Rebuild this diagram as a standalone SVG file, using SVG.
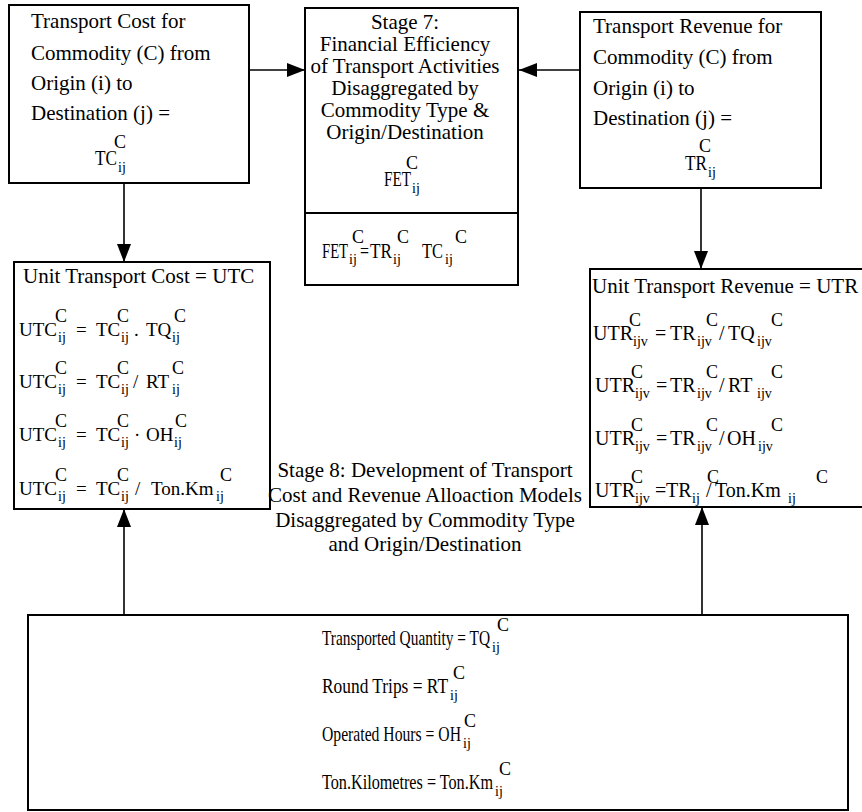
<svg xmlns="http://www.w3.org/2000/svg" width="862" height="812" viewBox="0 0 862 812">
<style>
.box{fill:#fff;stroke:#000;stroke-width:2}
text{font-family:"Liberation Serif","Times New Roman",serif;fill:#000}
.l{font-size:21px}
.m{text-anchor:middle}
.e{font-size:19px}
.e2{font-size:20px}
.b{font-size:21px}
.s{font-size:14px}
.c{font-size:18px;text-anchor:middle}
.conn{stroke:#000;stroke-width:1.6;fill:none}
</style>
<defs>
<marker id="ah" markerUnits="userSpaceOnUse" markerWidth="18" markerHeight="14" refX="18" refY="7" orient="auto">
<path d="M0,0 L18,7 L0,14 z" fill="#000"/>
</marker>
</defs>
<rect width="862" height="812" fill="#fff"/>

<g id="connectors">
<path class="conn" d="M249,70 H305" marker-end="url(#ah)"/>
<path class="conn" d="M580,70 H519" marker-end="url(#ah)"/>
<path class="conn" d="M124,183 V262" marker-end="url(#ah)"/>
<path class="conn" d="M701,188 V269" marker-end="url(#ah)"/>
<path class="conn" d="M124,615 V509" marker-end="url(#ah)"/>
<path class="conn" d="M702,615 V507" marker-end="url(#ah)"/>
</g>

<g id="transport-cost">
<rect class="box" x="9" y="5" width="240" height="178"/>
<text class="l" x="31" y="28">Transport Cost for</text>
<text class="l" x="31" y="60">Commodity (C) from</text>
<text class="l" x="31" y="90">Origin (i) to</text>
<text class="l" x="31" y="120">Destination (j) =</text>
<text class="c" x="120" y="148">C</text>
<text class="e2" x="95" y="165" textLength="22" lengthAdjust="spacingAndGlyphs">TC</text>
<text class="s" x="118" y="172">ij</text>
</g>

<g id="stage7">
<rect class="box" x="305" y="8" width="213" height="277"/>
<line x1="305" y1="213" x2="518" y2="213" stroke="#000" stroke-width="2"/>
<text class="l m" x="405" y="29">Stage 7:</text>
<text class="l m" x="405" y="51">Financial Efficiency</text>
<text class="l m" x="405" y="73">of Transport Activities</text>
<text class="l m" x="405" y="95">Disaggregated by</text>
<text class="l m" x="405" y="117">Commodity Type &amp;</text>
<text class="l m" x="405" y="139">Origin/Destination</text>
<text class="c" x="412" y="169">C</text>
<text class="e2" x="384" y="186" textLength="27" lengthAdjust="spacingAndGlyphs">FET</text>
<text class="s" x="412" y="193">ij</text>
<text class="c" x="358" y="243">C</text>
<text class="c" x="403" y="243">C</text>
<text class="c" x="461" y="243">C</text>
<text class="e2" x="322" y="258" textLength="26" lengthAdjust="spacingAndGlyphs">FET</text>
<text class="s" x="349" y="264">ij</text>
<text class="e2" x="360" y="258" textLength="9" lengthAdjust="spacingAndGlyphs">=</text>
<text class="e2" x="370" y="258" textLength="22" lengthAdjust="spacingAndGlyphs">TR</text>
<text class="s" x="393" y="264">ij</text>
<text class="e2" x="422" y="258" textLength="21" lengthAdjust="spacingAndGlyphs">TC</text>
<text class="s" x="445" y="264">ij</text>
</g>

<g id="transport-revenue">
<rect class="box" x="580" y="12" width="241" height="176"/>
<text class="l" x="593" y="33">Transport Revenue for</text>
<text class="l" x="593" y="64">Commodity (C) from</text>
<text class="l" x="593" y="95">Origin (i) to</text>
<text class="l" x="593" y="125">Destination (j)  =</text>
<text class="c" x="705" y="152">C</text>
<text class="e2" x="685" y="170" textLength="22" lengthAdjust="spacingAndGlyphs">TR</text>
<text class="s" x="708" y="177">ij</text>
</g>

<g id="unit-transport-cost">
<rect class="box" x="14" y="262" width="256" height="247"/>
<text class="l" x="23" y="283">Unit Transport Cost = UTC</text>
<text class="c" x="61" y="322">C</text><text class="c" x="123" y="322">C</text><text class="c" x="180" y="322">C</text>
<text class="e" x="19" y="336">UTC</text><text class="s" x="58" y="342">ij</text>
<text class="e" x="76" y="336">=</text>
<text class="e" x="96" y="336">TC</text><text class="s" x="121" y="342">ij</text>
<text class="e" x="134" y="336">.</text>
<text class="e" x="146" y="336">TQ</text><text class="s" x="172" y="342">ij</text>
<text class="c" x="61" y="374">C</text><text class="c" x="123" y="374">C</text><text class="c" x="178" y="374">C</text>
<text class="e" x="19" y="388">UTC</text><text class="s" x="58" y="394">ij</text>
<text class="e" x="76" y="388">=</text>
<text class="e" x="96" y="388">TC</text><text class="s" x="121" y="394">ij</text>
<text class="e" x="133" y="388">/</text>
<text class="e" x="146" y="388">RT</text><text class="s" x="172" y="394">ij</text>
<text class="c" x="61" y="427">C</text><text class="c" x="123" y="427">C</text><text class="c" x="181" y="427">C</text>
<text class="e" x="19" y="441">UTC</text><text class="s" x="58" y="447">ij</text>
<text class="e" x="76" y="441">=</text>
<text class="e" x="96" y="441">TC</text><text class="s" x="121" y="447">ij</text>
<text class="e" x="134" y="441">·</text>
<text class="e" x="146" y="441">OH</text><text class="s" x="174" y="447">ij</text>
<text class="c" x="61" y="481">C</text><text class="c" x="123" y="481">C</text><text class="c" x="226" y="481">C</text>
<text class="e" x="19" y="495">UTC</text><text class="s" x="58" y="501">ij</text>
<text class="e" x="76" y="495">=</text>
<text class="e" x="96" y="495">TC</text><text class="s" x="121" y="501">ij</text>
<text class="e" x="135" y="495">/</text>
<text class="e" x="151" y="495">Ton.Km</text><text class="s" x="216" y="501">ij</text>
</g>

<g id="unit-transport-revenue">
<rect class="box" x="590" y="269" width="290" height="238"/>
<text class="l" x="592" y="293">Unit Transport Revenue = UTR</text>
<text class="c" x="635" y="326">C</text><text class="c" x="712" y="326">C</text><text class="c" x="777" y="326">C</text>
<text class="e2" x="593" y="340">UTR</text><text class="s" x="633" y="346">ijv</text>
<text class="e2" x="655" y="340">=</text>
<text class="e2" x="670" y="340">TR</text><text class="s" x="697" y="346">ijv</text>
<text class="e2" x="719" y="340">/</text>
<text class="e2" x="728" y="340">TQ</text><text class="s" x="757" y="346">ijv</text>
<text class="c" x="637" y="378">C</text><text class="c" x="712" y="378">C</text><text class="c" x="777" y="378">C</text>
<text class="e2" x="595" y="392">UTR</text><text class="s" x="635" y="398">ijv</text>
<text class="e2" x="656" y="392">=</text>
<text class="e2" x="670" y="392">TR</text><text class="s" x="697" y="398">ijv</text>
<text class="e2" x="719" y="392">/</text>
<text class="e2" x="728" y="392">RT</text><text class="s" x="757" y="398">ijv</text>
<text class="c" x="637" y="431">C</text><text class="c" x="712" y="431">C</text><text class="c" x="777" y="431">C</text>
<text class="e2" x="595" y="445">UTR</text><text class="s" x="635" y="451">ijv</text>
<text class="e2" x="656" y="445">=</text>
<text class="e2" x="670" y="445">TR</text><text class="s" x="697" y="451">ijv</text>
<text class="e2" x="719" y="445">/</text>
<text class="e2" x="727" y="445">OH</text><text class="s" x="758" y="451">ijv</text>
<text class="c" x="637" y="483">C</text><text class="c" x="713" y="483">C</text><text class="c" x="822" y="483">C</text>
<text class="e2" x="595" y="497">UTR</text><text class="s" x="635" y="503">ijv</text>
<text class="e2" x="655" y="497">=</text>
<text class="e2" x="666" y="497">TR</text><text class="s" x="692" y="503">ij</text>
<text class="e2" x="706" y="497">/</text>
<text class="e2" x="715" y="497">Ton.Km</text><text class="s" x="788" y="503">ij</text>
</g>

<g id="stage8">
<text class="l m" x="425" y="477">Stage 8: Development of Transport</text>
<text class="l m" x="425" y="502">Cost and Revenue Alloaction Models</text>
<text class="l m" x="425" y="527">Disaggregated by Commodity Type</text>
<text class="l m" x="425" y="551">and Origin/Destination</text>
</g>

<g id="inputs">
<rect class="box" x="28" y="615" width="820" height="195"/>
<text class="c" x="503" y="631">C</text>
<text class="b" x="322" y="645" textLength="168" lengthAdjust="spacingAndGlyphs">Transported Quantity = TQ</text>
<text class="s" x="492" y="652">ij</text>
<text class="c" x="459" y="679">C</text>
<text class="b" x="322" y="693" textLength="126" lengthAdjust="spacingAndGlyphs">Round Trips = RT</text>
<text class="s" x="450" y="700">ij</text>
<text class="c" x="470" y="727">C</text>
<text class="b" x="322" y="741" textLength="139" lengthAdjust="spacingAndGlyphs">Operated Hours = OH</text>
<text class="s" x="463" y="748">ij</text>
<text class="c" x="505" y="775">C</text>
<text class="b" x="322" y="789" textLength="171" lengthAdjust="spacingAndGlyphs">Ton.Kilometres = Ton.Km</text>
<text class="s" x="495" y="796">ij</text>
</g>
</svg>
